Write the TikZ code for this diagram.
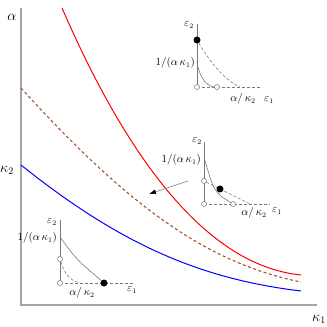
\documentclass[tikz,border=0pt]{standalone}
\usepackage{xcolor}
\usepackage{tikz}
\usetikzlibrary{positioning, arrows.meta}

\definecolor{axisgray}{RGB}{165,165,165}
\definecolor{insetgray}{RGB}{120,120,120}
\definecolor{dashbrown}{RGB}{165,85,40}

\begin{document}
\begin{tikzpicture}[x=1pt, y=1pt,
			axis/.style={axisgray, line width=1.3pt},
			inset/.style={insetgray, line width=0.6pt},
			insetdash/.style={insetgray, line width=0.6pt, dash pattern=on 3pt off 2pt},
			opendot/.style={circle, draw=insetgray, fill=white, line width=0.5pt, inner sep=0pt, minimum size=5pt},
			fulldot/.style={circle, fill=black, inner sep=0pt, minimum size=7pt},
			lbl/.style={font=\fontsize{10.5}{12}\selectfont, inner sep=1pt}]
			\useasboundingbox (-21,-22) rectangle (306,305);
			
			% axes
			\coordinate (O) at (0,0);
			\coordinate (ytop) at (0,297);
			\coordinate (xend) at (296,0);
			\draw[axis] (ytop) -- (O) -- (xend);
			\node (alpha) at (-9,288) {\Large $\alpha$};
			\node (kappa2) at (-14,135) {\Large $\kappa_2$};
			\node (kappa1) at (298,-14) {\Large $\kappa_1$};
			
			% curves
			\draw[red, line width=1pt] (41,297) .. controls (101,159) and (180,40) .. (280,30);
			\draw[dashbrown, line width=1.1pt, dash pattern=on 3pt off 2.5pt] (0,217) .. controls (100,107) and (180,43) .. (280,23);
			\draw[blue, line width=1pt] (0,140) .. controls (100,60) and (180,26) .. (280,14);
			
			% top inset
			\begin{scope}[shift={(176,218)}]
			\coordinate (a0) at (0,0);
			\coordinate (atop) at (0,63);
			\coordinate (aend) at (65,0);
			\coordinate (acut) at (43,0);
			\coordinate (ak) at (0,25);
			\draw[inset] (a0) -- (atop);
			\draw[insetdash] (a0) -- (aend);
			\node[opendot] (acirc) at (20,0) {};
			\draw[inset] (ak) .. controls (2,12) and (8,1) .. (acirc.west);
			\node[fulldot] (adot) at (0,47) {};
			\draw[insetdash] (adot) .. controls (10,30) and (25,8) .. (acut);
			\node[opendot] (aorig) at (a0) {};
			\node[lbl] (aeps2) at (-8,62) {$\varepsilon_2$};
			\node[lbl, anchor=east] (akap) at (-1,24) {$1/(\alpha\,\kappa_1)$};
			\node[lbl] (aalk) at (46,-12) {$\alpha/\,\kappa_2$};
			\node[lbl] (aeps1) at (72,-13) {$\varepsilon_1$};
			\end{scope}
			
			% middle inset
			\begin{scope}[shift={(183,101)}]
			\coordinate (b0) at (0,0);
			\coordinate (btop) at (0,62);
			\coordinate (bend) at (66,0);
			\coordinate (bcut) at (46,0);
			\coordinate (bk) at (0,47);
			\coordinate (barr) at (-16,23);
			\draw[inset] (b0) -- (btop);
			\draw[insetdash] (b0) -- (bend);
			\node[opendot] (bcirc) at (29,0) {};
			\node[opendot] (bmid) at (0,23) {};
			\draw[inset] (bk) .. controls (10,12) .. (bcirc);
			\draw[insetdash] (bmid) -- (bcut);
			\node[fulldot] (bdot) at (16,15) {};
			\node[opendot] (borig) at (b0) {};
			\node[lbl] (beps2) at (-7,63) {$\varepsilon_2$};
			\node[lbl, anchor=east] (bkap) at (-2,44) {$1/(\alpha\,\kappa_1)$};
			\node[lbl] (balk) at (50,-9) {$\alpha/\,\kappa_2$};
			\node[lbl] (beps1) at (73,-7) {$\varepsilon_1$};
			\end{scope}
			
			% bottom inset
			\begin{scope}[shift={(39,22)}]
			\coordinate (c0) at (0,0);
			\coordinate (ctop) at (0,63);
			\coordinate (cend) at (73,0);
			\coordinate (ccut) at (20,0);
			\coordinate (ck) at (0,46);
			\draw[inset] (c0) -- (ctop);
			\draw[insetdash] (c0) -- (cend);
			\node[opendot] (cmid) at (0,24) {};
			\draw[insetdash] (cmid) .. controls (4,10) and (10,2) .. (ccut);
			\node[fulldot] (cdot) at (44,0) {};
			\draw[inset] (ck) .. controls (16,24) .. (cdot);
			\node[opendot] (corig) at (c0) {};
			\node[lbl] (ceps2) at (-8,61) {$\varepsilon_2$};
			\node[lbl, anchor=east] (ckap) at (-2,45) {$1/(\alpha\,\kappa_1)$};
			\node[lbl] (calk) at (22,-10) {$\alpha/\,\kappa_2$};
			\node[lbl] (ceps1) at (72,-7) {$\varepsilon_1$};
			\end{scope}
			
			% arrow to the dashed curve
			\coordinate (arrtip) at (128,111);
			\draw[insetgray, line width=0.6pt, -{Latex[length=7pt, width=5pt, color=black]}] (barr) -- (arrtip);
			\end{tikzpicture}
\end{document}
